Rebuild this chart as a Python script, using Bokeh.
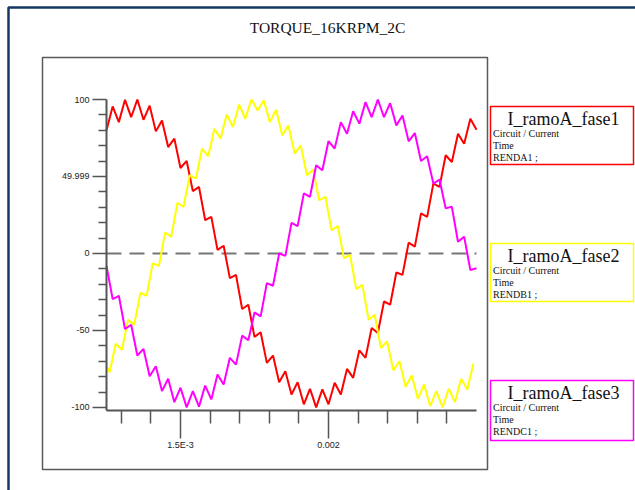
from bokeh.plotting import figure
from bokeh.models import Range1d, FixedTicker, BoxAnnotation, Label, LinearAxis
from bokeh.embed import file_html
from bokeh.resources import INLINE

# ---------------- data ----------------
title_text = "TORQUE_16KRPM_2C"
series_names = ["I_ramoA_fase1", "I_ramoA_fase2", "I_ramoA_fase3"]
series_sub1 = ["Circuit / Current", "Circuit / Current", "Circuit / Current"]
series_sub2 = ["Time", "Time", "Time"]
series_refs = ["RENDA1 ;", "RENDB1 ;", "RENDC1 ;"]
series_colors = ["#ff0000", "#ffff00", "#ff00ff"]

# sample times in microseconds
t_fase1_us = [1250.0, 1270.8, 1291.7, 1312.5, 1333.3, 1354.2, 1375.0, 1395.8, 1416.7, 1437.5,
              1458.3, 1479.2, 1500.0, 1520.8, 1541.7, 1562.5, 1583.3, 1604.2, 1625.0, 1645.8,
              1666.7, 1687.5, 1708.3, 1729.2, 1750.0, 1770.8, 1791.7, 1812.5, 1833.3, 1854.2,
              1875.0, 1895.8, 1916.7, 1937.5, 1958.3, 1979.2, 2000.0, 2020.8, 2041.7, 2062.5,
              2083.3, 2104.2, 2125.0, 2145.8, 2166.7, 2187.5, 2208.3, 2229.2, 2250.0, 2270.8,
              2291.7, 2312.5, 2333.3, 2354.2, 2375.0, 2395.8, 2416.7, 2437.5, 2458.3, 2479.2,
              2500.0]
i_fase1 = [80.0, 95.5, 85.3, 99.8, 88.5, 100.0, 86.8, 96.0, 79.3, 86.4,
           69.1, 74.6, 55.5, 60.1, 40.5, 43.2, 21.7, 23.8, 2.3, 5.0,
           -16.0, -13.9, -36.1, -33.3, -54.2, -51.2, -71.1, -66.3, -83.6, -76.5,
           -91.6, -83.6, -98.0, -87.9, -100.0, -88.3, -98.0, -84.0, -91.6, -75.0,
           -80.8, -62.9, -67.8, -48.4, -51.7, -31.2, -33.3, -12.4, -13.9, 7.0,
           4.4, 26.0, 23.8, 45.4, 43.2, 63.8, 59.4, 77.8, 71.3, 87.5,
           80.4]

t_fase2_us = [1250.0, 1260.4, 1281.2, 1302.1, 1322.9, 1343.7, 1364.6, 1385.4, 1406.2, 1427.1,
              1447.9, 1468.7, 1489.6, 1510.4, 1531.2, 1552.1, 1572.9, 1593.7, 1614.6, 1635.4,
              1656.2, 1677.1, 1697.9, 1718.7, 1739.6, 1760.4, 1781.2, 1802.1, 1822.9, 1843.7,
              1864.6, 1885.4, 1906.2, 1927.1, 1947.9, 1968.7, 1989.6, 2010.4, 2031.2, 2052.1,
              2072.9, 2093.7, 2114.6, 2135.4, 2156.2, 2177.1, 2197.9, 2218.7, 2239.6, 2260.4,
              2281.2, 2302.1, 2322.9, 2343.7, 2364.6, 2385.4, 2406.2, 2427.1, 2447.9, 2468.7,
              2489.6]
i_fase2 = [-73.3, -77.1, -58.6, -62.5, -43.0, -46.3, -25.4, -27.5, -6.4, -8.1,
           13.5, 10.9, 32.9, 30.3, 50.8, 48.7, 68.1, 63.1, 81.0, 74.6,
           90.3, 82.1, 96.8, 87.5, 100.0, 92.9, 99.4, 85.3, 93.3, 76.7,
           83.2, 64.9, 70.2, 50.8, 54.5, 34.6, 36.8, 15.2, 17.8, -3.0,
           -1.0, -23.2, -20.4, -43.0, -39.8, -61.4, -57.1, -75.9, -70.0, -86.6,
           -79.3, -94.4, -85.1, -99.2, -89.4, -100.0, -87.9, -96.6, -81.4, -88.3,
           -71.5]

t_fase3_us = [1250.0, 1270.8, 1291.7, 1312.5, 1333.3, 1354.2, 1375.0, 1395.8, 1416.7, 1437.5,
              1458.3, 1479.2, 1500.0, 1520.8, 1541.7, 1562.5, 1583.3, 1604.2, 1625.0, 1645.8,
              1666.7, 1687.5, 1708.3, 1729.2, 1750.0, 1770.8, 1791.7, 1812.5, 1833.3, 1854.2,
              1875.0, 1895.8, 1916.7, 1937.5, 1958.3, 1979.2, 2000.0, 2020.8, 2041.7, 2062.5,
              2083.3, 2104.2, 2125.0, 2145.8, 2166.7, 2187.5, 2208.3, 2229.2, 2250.0, 2270.8,
              2291.7, 2312.5, 2333.3, 2354.2, 2375.0, 2395.8, 2416.7, 2437.5, 2458.3, 2479.2,
              2500.0]
i_fase3 = [-8.1, -29.6, -27.5, -49.1, -46.3, -66.3, -62.0, -79.7, -73.3, -89.4,
           -81.4, -96.6, -87.2, -100.0, -89.4, -99.5, -85.8, -94.8, -78.6, -85.1,
           -67.8, -72.2, -53.4, -56.4, -38.3, -40.9, -19.3, -21.0, 0.0, -1.6,
           19.9, 17.8, 39.0, 36.8, 57.3, 54.0, 73.0, 68.1, 85.3, 77.8,
           92.4, 84.3, 98.3, 88.5, 100.0, 88.5, 97.6, 83.2, 89.6, 72.8,
           78.2, 60.1, 63.1, 45.4, 48.0, 29.3, 30.3, 7.6, 10.9, -10.7,
           -9.6]

x_major = [0.0015, 0.002]
x_major_labels = ["1.5E-3", "0.002"]
x_minor = [0.0013, 0.0014, 0.0016, 0.0017, 0.0018, 0.0019, 0.0021, 0.0022, 0.0023, 0.0024]
y_major = [-100, -50, 0, 49.999, 100]
y_major_labels = ["-100", "-50", "0", "49.999", "100"]
y_minor = [-90, -80, -70, -60, -40, -30, -20, -10, 10, 20, 30, 40, 60, 70, 80, 90]
zero_level = 0

# ---------------- geometry ----------------
W, H = 635, 490
X0, X1 = 0.00125, 0.0025          # time axis extent
Y0, Y1 = -102, 100                # value axis extent
FL, FR, FT, FB = 106, 476, 99, 410  # where the axes sit, in canvas pixels
KX = (X1 - X0) / (FR - FL)
KY = (Y1 - Y0) / (FB - FT)

p = figure(width=W, height=H, output_backend="svg", toolbar_location=None,
           x_range=Range1d(X0 - FL * KX, X0 + (W - FL) * KX),
           y_range=Range1d(Y1 - (H - FT) * KY, Y1 + FT * KY),
           x_axis_location=None, y_axis_location=None, min_border=0)
p.title.visible = False
p.outline_line_color = None
p.grid.visible = False
p.background_fill_color = "white"
p.border_fill_color = "white"

axis_col = "#555555"
xa = LinearAxis(fixed_location=Y0, bounds=(X0, X1),
                ticker=FixedTicker(ticks=x_major, minor_ticks=x_minor))
ya = LinearAxis(fixed_location=X0, bounds=(Y0, Y1),
                ticker=FixedTicker(ticks=y_major, minor_ticks=y_minor))
for ax in (xa, ya):
    ax.axis_line_color = axis_col
    ax.axis_line_width = 2
    ax.major_tick_line_color = axis_col
    ax.minor_tick_line_color = axis_col
    ax.major_tick_line_width = 1.5
    ax.minor_tick_line_width = 1.5
    ax.major_tick_in = 0
    ax.minor_tick_in = 0
    ax.major_label_text_font = "Liberation Sans"
    ax.major_label_text_font_size = "9px"
    ax.major_label_text_color = "#222222"
xa.major_label_overrides = dict(zip(x_major, x_major_labels))
xa.major_tick_out = 28
xa.minor_tick_out = 13
xa.major_label_standoff = 1
ya.major_label_overrides = dict(zip(y_major, y_major_labels))
ya.major_tick_out = 14
ya.minor_tick_out = 8
ya.major_label_standoff = 3
p.add_layout(xa, "below")
p.add_layout(ya, "left")

# zero reference line across the axis extent
p.segment(x0=[X0], y0=[zero_level], x1=[X1], y1=[zero_level],
          line_color="#777777", line_width=2, line_dash="15 8")

series = [(t_fase1_us, i_fase1), (t_fase2_us, i_fase2), (t_fase3_us, i_fase3)]
for (tu, iv), col in zip(series, series_colors):
    p.line([t * 1e-6 for t in tu], iv, line_color=col, line_width=2)

# ---------------- decorations, positioned by canvas pixel ----------------
def dx(px):
    return X0 + (px - FL) * KX

def dy(py):
    return Y1 - (py - FT) * KY

def cbox(l, t, r, b, color, width):
    return BoxAnnotation(left=dx(l), right=dx(r), top=dy(t), bottom=dy(b),
                         fill_alpha=0, line_color=color, line_width=width, line_alpha=1)

def clabel(x, y, text, size, shift, font="Liberation Serif", align="left"):
    return Label(x=dx(x), y=dy(y - shift), text=text,
                 text_font=font, text_font_size=size, text_color="#111111",
                 text_align=align, text_baseline="alphabetic")

p.add_layout(cbox(8, 7, 700, 600, "#173763", 2.5))
p.add_layout(cbox(42, 57, 487, 469, "#5a5a5a", 1.5))
p.add_layout(clabel(327, 32, title_text, "15.5px", 5, align="center"))

box_tops = [106, 243, 380]
box_bottoms = [164, 301, 440]
for name, s1, s2, ref, col, top, bot in zip(series_names, series_sub1, series_sub2,
                                           series_refs, series_colors, box_tops, box_bottoms):
    p.add_layout(cbox(490, top, 633, bot, col, 1.5))
    p.add_layout(clabel(563, top + 17, name, "18px", 5, align="center"))
    p.add_layout(clabel(492.5, top + 29, s1, "10px", 2))
    p.add_layout(clabel(492.5, top + 41, s2, "10px", 2))
    p.add_layout(clabel(492.5, top + 53, ref, "10px", 2))

open("out.html", "w").write(file_html(p, INLINE))
